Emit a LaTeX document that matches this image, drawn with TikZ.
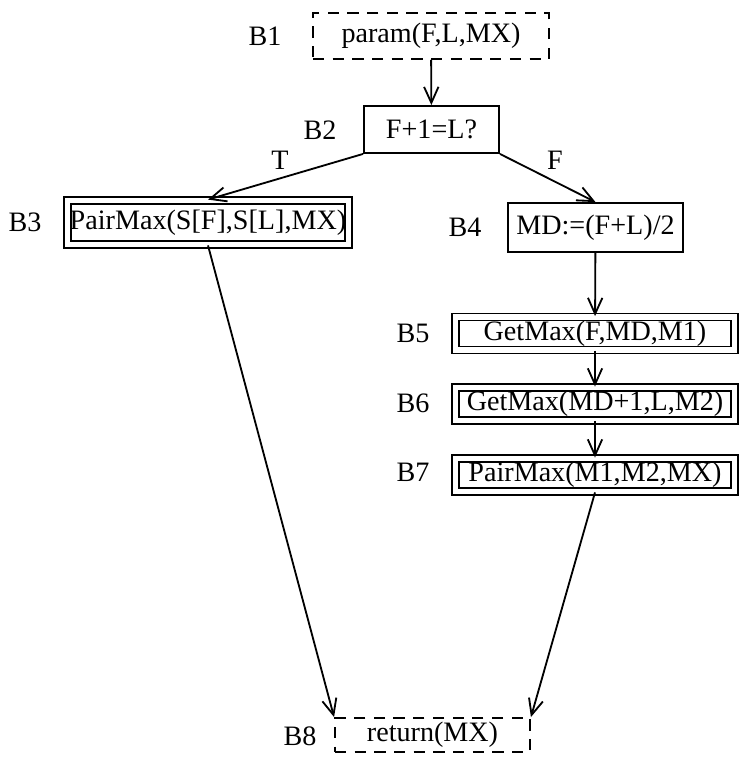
\documentclass[tikz,border=0pt]{standalone}
\usepackage{fontspec}
\setmainfont{Liberation Serif}
\usetikzlibrary{arrows.meta,positioning}
\tikzset{
  blk/.style={draw,line width=1.3pt,inner sep=0pt,font=\fontsize{20}{24}\selectfont},
  ioblk/.style={blk,dashed,dash pattern=on 8pt off 6pt},
  callblk/.style={blk,double,double distance=3.6pt},
  tag/.style={font=\fontsize{20}{24}\selectfont},
  flow/.style={-{Straight Barb[length=4mm,width=3.6mm]},line width=1.3pt}
}

\begin{document}
\begin{tikzpicture}[x=0.025cm,y=-0.025cm]
    \useasboundingbox (0,0) rectangle (749,758);
    \node[ioblk,minimum width=5.9cm,minimum height=1.15cm] (b1) at (431,36){param(F,L,MX)};
    \node[blk,minimum width=3.375cm,minimum height=1.175cm] (b2) at (431.5,129.5){F+1=L?};
    \node[callblk,minimum width=7.025cm,minimum height=1.1cm] (b3) at (208,222.5){PairMax(S[F],S[L],MX)};
    \node[blk,minimum width=4.375cm,minimum height=1.225cm] (b4) at (595.5,227.5){MD:=(F+L)/2};
    \node[callblk,minimum width=6.975cm,minimum height=0.825cm] (b5) at (595,333.5){GetMax(F,MD,M1)};
    \node[callblk,minimum width=6.975cm,minimum height=0.825cm] (b6) at (595,404){GetMax(MD+1,L,M2)};
    \node[callblk,minimum width=6.975cm,minimum height=0.825cm] (b7) at (595,475){PairMax(M1,M2,MX)};
    \node[ioblk,minimum width=4.875cm,minimum height=0.85cm] (b8) at (432.5,735){return(MX)};
    \node[tag] (l1) at (265,36){B1};
    \node[tag] (l2) at (320,130){B2};
    \node[tag] (l3) at (25,222){B3};
    \node[tag] (l4) at (465,227){B4};
    \node[tag] (l5) at (413,333){B5};
    \node[tag] (l6) at (413,403){B6};
    \node[tag] (l7) at (413,472){B7};
    \node[tag] (l8) at (300,736){B8};
    \node[tag] (tlab) at (280,160){T};
    \node[tag] (flab) at (555,160){F};
    \draw[flow] (b1) -- (b2);
    \draw[flow] (b2.south west) -- (b3.north);
    \draw[flow] (b2.south east) -- (b4.north);
    \draw[flow] (b4) -- (b5);
    \draw[flow] (b5) -- (b6);
    \draw[flow] (b6) -- (b7);
    \draw[flow] (b3.south) -- (b8.north west);
    \draw[flow] (b7.south) -- (b8.north east);
  \end{tikzpicture}
\end{document}
